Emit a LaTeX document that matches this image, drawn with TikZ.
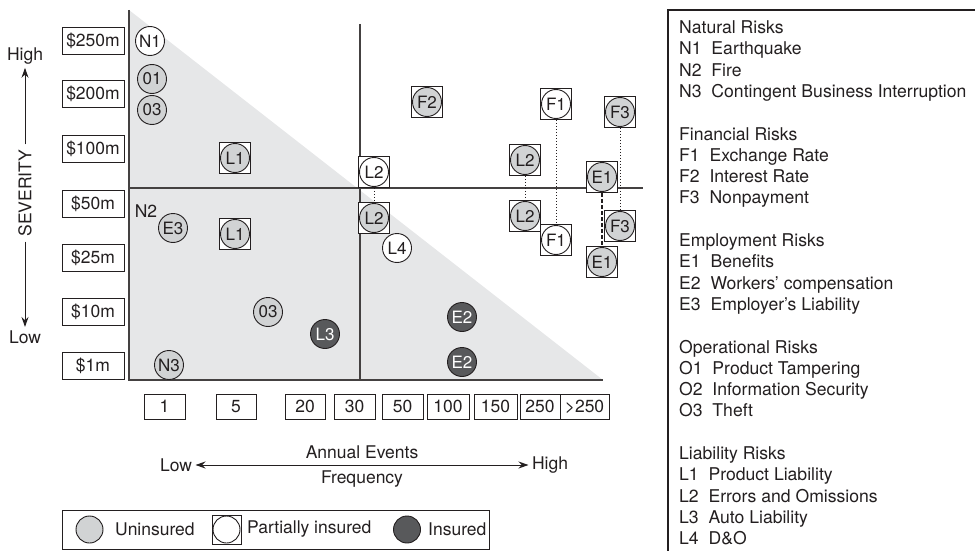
\documentclass[tikz,border=0pt]{standalone}
\usepackage{fontspec}
\setmainfont{TeX Gyre Heros}
\usetikzlibrary{arrows.meta}
\definecolor{tri}{HTML}{E6E7E8}
\definecolor{gfill}{HTML}{D1D3D4}
\definecolor{dfill}{HTML}{58595B}
\definecolor{ink}{HTML}{231F20}
\begin{document}
\begin{tikzpicture}[x=1pt,y=-1pt,
  every node/.style={text=ink, font=\fontsize{17.5}{20}\selectfont},
  lbox/.style={draw=ink, line width=0.9pt, minimum width=62pt, minimum height=27pt, inner sep=0pt},
  xbox/.style={draw=ink, line width=0.9pt, minimum height=25pt, inner sep=0pt},
  gc/.style={circle, draw=ink, line width=0.9pt, fill=gfill, minimum size=29pt, inner sep=0pt, font=\fontsize{17}{17}\selectfont},
  wc/.style={gc, fill=white},
  dc/.style={gc, fill=dfill, text=white},
  sq/.style={draw=ink, line width=0.9pt, fill=white, minimum size=31pt, inner sep=0pt},
  axisline/.style={draw=ink!85, line width=1.3pt},
  arr/.style={draw=ink, line width=1pt, -{Stealth[length=10pt,width=7pt]}},
  arrboth/.style={draw=ink, line width=1pt, {Stealth[length=10pt,width=7pt]}-{Stealth[length=10pt,width=7pt]}},
  link/.style={draw=ink, line width=1pt, dotted},
  dlink/.style={draw=ink, line width=1.2pt, dash pattern=on 4pt off 2pt},
  lg/.style={anchor=base west, inner sep=0pt, font=\fontsize{17.6}{20}\selectfont}
]
\useasboundingbox (0,0) rectangle (975,551);

% shaded triangle and axes
\fill[tri] (129,10) -- (129,380) -- (603,380) -- cycle;
\draw[axisline] (129,10) -- (129,380) -- (603,380);
\draw[axisline] (360,24) -- (360,380);
\draw[axisline] (129,188) -- (643,188);

% severity axis
\node (sevhigh) at (25,56) {High};
\node (sevlow) at (25,337) {Low};
\node[rotate=90, inner sep=5pt] (sev) at (25,193) {SEVERITY};
\draw[arr] (sev.east) -- (sevhigh.south);
\draw[arr] (sev.west) -- (sevlow.north);

% severity value boxes
\node[lbox] (y1) at (93,40.5) {\$250m};
\node[lbox] (y2) at (93,94) {\$200m};
\node[lbox] (y3) at (93,149) {\$100m};
\node[lbox] (y4) at (93,204) {\$50m};
\node[lbox] (y5) at (93,258) {\$25m};
\node[lbox] (y6) at (93,312) {\$10m};
\node[lbox] (y7) at (93,366) {\$1m};

% frequency boxes
\node[xbox, minimum width=41pt] (x1) at (164.5,406.5) {1};
\node[xbox, minimum width=40pt] (x2) at (236,406.5) {5};
\node[xbox, minimum width=40pt] (x3) at (305,406.5) {20};
\node[xbox, minimum width=41pt] (x4) at (354.5,406.5) {30};
\node[xbox, minimum width=41pt] (x5) at (402.5,406.5) {50};
\node[xbox, minimum width=42pt] (x6) at (448,406.5) {100};
\node[xbox, minimum width=43pt] (x7) at (495.5,406.5) {150};
\node[xbox, minimum width=40pt] (x8) at (540,406.5) {250};
\node[xbox, minimum width=49pt] (x9) at (584.5,406.5) {>250};

% frequency axis
\node (fa) at (362,452) {Annual Events};
\node (ff) at (362,479) {Frequency};
\node (flow) at (176,465) {Low};
\node (fhigh) at (550,465) {High};
\draw[arrboth] (flow.east) -- (fhigh.west);

% risk markers
\node[wc] (n1) at (150,41) {N1};
\node[gc] (o1) at (152,79) {01};
\node[gc] (o3a) at (152,110) {03};
\node[sq] (l1as) at (235,158) {};
\node[gc] (l1a) at (l1as) {L1};
\node (n2) at (146,211) {N2};
\node[gc] (e3) at (173,228) {E3};
\node[sq] (l1bs) at (235,234) {};
\node[gc] (l1b) at (l1bs) {L1};
\node[gc] (o3b) at (268,312) {03};
\node[dc] (l3) at (325,334) {L3};
\node[gc] (n3) at (169,365) {N3};

\node[sq] (l2as) at (374,172) {};
\node[wc] (l2a) at (l2as) {L2};
\node[sq] (l2bs) at (374,218) {};
\node[gc] (l2b) at (l2bs) {L2};
\draw[link] (l2as.south) -- (l2bs.north);
\node[wc] (l4) at (397,248) {L4};

\node[sq] (f2s) at (427,102) {};
\node[gc] (f2) at (f2s) {F2};

\node[sq] (l2cs) at (525,160) {};
\node[gc] (l2c) at (l2cs) {L2};
\node[sq] (l2ds) at (525,216) {};
\node[gc] (l2d) at (l2ds) {L2};
\draw[link] (l2cs.south) -- (l2ds.north);

\node[sq] (f1as) at (556,104) {};
\node[wc] (f1a) at (f1as) {F1};
\node[sq] (f1bs) at (556,240) {};
\node[wc] (f1b) at (f1bs) {F1};
\draw[link] (f1as.south) -- (f1bs.north);

\node[sq] (e1as) at (602,177) {};
\node[gc] (e1a) at (e1as) {E1};
\node[sq] (e1bs) at (602,262) {};
\node[gc] (e1b) at (e1bs) {E1};
\draw[dlink] (e1as.south) -- (e1bs.north);

\node[sq] (f3as) at (620,112) {};
\node[gc] (f3a) at (f3as) {F3};
\node[sq] (f3bs) at (620,226) {};
\node[gc] (f3b) at (f3bs) {F3};
\draw[link] (f3as.south) -- (f3bs.north);

\node[dc] (e2a) at (462,317) {E2};
\node[dc] (e2b) at (462,362) {E2};

% bottom legend
\node[draw=ink, line width=0.9pt, minimum width=427pt, minimum height=39pt, inner sep=0pt] (leg) at (275.5,529.5) {};
\node[gc, minimum size=27pt] (legu) at (89.5,529.5) {};
\node[anchor=west, inner sep=0pt] (legut) at (115,529.5) {Uninsured};
\node[sq, minimum size=29pt] (legps) at (226.5,529.5) {};
\node[wc, minimum size=27pt] (legp) at (legps) {};
\node[anchor=west, inner sep=0pt] (legpt) at (247,529.5) {Partially insured};
\node[dc, minimum size=27pt] (legi) at (407,529.5) {};
\node[anchor=west, inner sep=0pt] (legit) at (428,529.5) {Insured};

% right key
\draw[draw=ink, line width=1.2pt] (668,10) rectangle (990,570);
\foreach \k/\t in {0/{Natural Risks}, 1/{N1\ \ Earthquake}, 2/{N2\ \ Fire},
  3/{N3\ \ Contingent Business Interruption},
  5/{Financial Risks}, 6/{F1\ \ Exchange Rate}, 7/{F2\ \ Interest Rate}, 8/{F3\ \ Nonpayment},
  10/{Employment Risks}, 11/{E1\ \ Benefits}, 12/{E2\ \ Workers’ compensation}, 13/{E3\ \ Employer’s Liability},
  15/{Operational Risks}, 16/{O1\ \ Product Tampering}, 17/{O2\ \ Information Security}, 18/{O3\ \ Theft},
  20/{Liability Risks}, 21/{L1\ \ Product Liability}, 22/{L2\ \ Errors and Omissions}, 23/{L3\ \ Auto Liability}, 24/{L4\ \ D\&O}}
  \node[lg] (key\k) at (679,{33.5+21.3*\k}) {\t};
\end{tikzpicture}
\end{document}
